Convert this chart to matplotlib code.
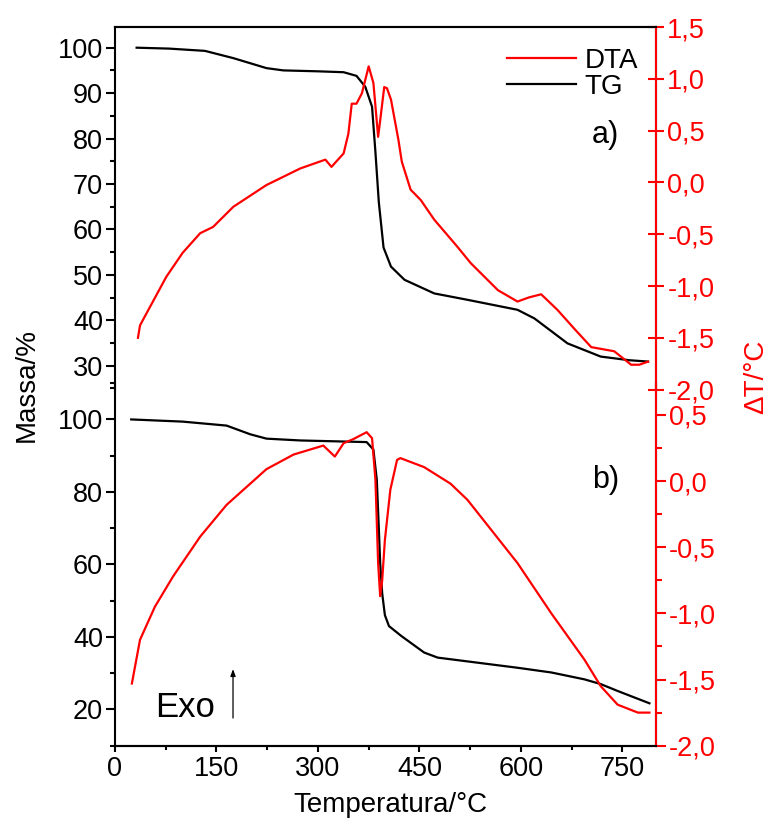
import matplotlib
matplotlib.use("Agg")
import matplotlib.pyplot as plt
from matplotlib.ticker import MultipleLocator, FuncFormatter

plt.rcParams['font.family'] = ['Liberation Sans', 'DejaVu Sans']

# sample a) - TG (mass %) and DTA (delta T) vs temperature
a_tg_temp = [32, 80, 133, 175, 224, 249, 300, 338, 357, 370, 380, 385, 390, 397,
             408, 428, 472, 521, 595, 620, 669, 718, 760, 788]
a_tg_mass = [100, 99.8, 99.3, 97.7, 95.5, 95.0, 94.8, 94.6, 93.8, 91.4, 87, 77, 66, 56,
             51.8, 48.9, 45.9, 44.5, 42.3, 40.4, 34.9, 32, 31.2, 30.9]
a_dta_temp = [34, 37, 76, 100, 126, 145, 175, 224, 274, 311, 320, 338, 345, 350, 357,
              365, 375, 382, 389, 393, 398, 402, 408, 419, 424, 437, 452, 472, 506, 526,
              566, 595, 612, 630, 654, 680, 704, 738, 763, 775, 788]
a_dta_dt = [-1.50, -1.38, -0.91, -0.68, -0.49, -0.43, -0.235, -0.025, 0.135, 0.22, 0.15,
            0.28, 0.47, 0.76, 0.76, 0.86, 1.12, 0.96, 0.44, 0.65, 0.92, 0.91, 0.80, 0.41,
            0.20, -0.07, -0.17, -0.36, -0.62, -0.78, -1.04, -1.15, -1.11, -1.08, -1.23,
            -1.42, -1.59, -1.63, -1.76, -1.76, -1.73]

# sample b)
b_tg_temp = [24, 100, 165, 200, 224, 274, 372, 382, 387, 390, 392, 395, 399, 405, 423,
             457, 477, 595, 645, 694, 718, 743, 790]
b_tg_mass = [100, 99.4, 98.3, 95.9, 94.7, 94.2, 93.75, 91.7, 83.4, 70, 60.5, 52, 46, 43,
             40.3, 35.7, 34.3, 31.5, 30.2, 28.3, 27, 25.1, 21.7]
b_dta_temp = [25, 37, 59, 86, 126, 165, 224, 264, 308, 325, 338, 352, 372, 380, 385, 389,
              392, 395, 399, 407, 417, 422, 457, 496, 521, 595, 645, 694, 718, 743, 773, 790]
b_dta_dt = [-1.53, -1.2, -0.95, -0.72, -0.42, -0.18, 0.09, 0.2, 0.268, 0.185, 0.286, 0.316,
            0.369, 0.324, 0.01, -0.62, -0.87, -0.75, -0.445, -0.067, 0.16, 0.173, 0.105,
            -0.02, -0.142, -0.62, -1.0, -1.35, -1.55, -1.69, -1.75, -1.75]

red = '#ff0000'
fs = 19.5
comma = FuncFormatter(lambda v, p: f"{v:.1f}".replace('.', ','))

fig = plt.figure(figsize=(7.68, 8.19), dpi=100)
ax_b = fig.add_axes([0.1497, 0.0895, 0.7047, 0.4429])
ax_a = fig.add_axes([0.1497, 0.5243, 0.7047, 0.4427])
ax_b.patch.set_visible(False)
ax_a.patch.set_visible(False)
ax_a2 = ax_a.twinx()
ax_b2 = ax_b.twinx()

lw = 1.6
ax_a.plot(a_tg_temp, a_tg_mass, color='black', lw=lw, label='TG')
ax_a2.plot(a_dta_temp, a_dta_dt, color=red, lw=lw, label='DTA')
ax_b.plot(b_tg_temp, b_tg_mass, color='black', lw=lw)
ax_b2.plot(b_dta_temp, b_dta_dt, color=red, lw=lw)

for ax in (ax_a, ax_a2, ax_b, ax_b2):
    ax.set_xlim(0, 800)

ax_a.set_ylim(24.73, 104.55)
ax_a2.set_ylim(-2.0, 1.5)
ax_b.set_ylim(10, 110.06)
ax_b2.set_ylim(-2.0, 0.741)

# spines
for ax in (ax_a, ax_a2):
    ax.spines['bottom'].set_visible(False)
for ax in (ax_b, ax_b2):
    ax.spines['top'].set_visible(False)
for ax in (ax_a, ax_a2, ax_b, ax_b2):
    for s in ax.spines.values():
        s.set_linewidth(1.5)
for ax in (ax_a2, ax_b2):
    ax.spines['right'].set_color(red)
    ax.spines['left'].set_visible(False)

# left (mass) axes
ax_a.yaxis.set_major_locator(MultipleLocator(10))
ax_a.yaxis.set_minor_locator(MultipleLocator(5))
ax_b.yaxis.set_major_locator(MultipleLocator(20))
ax_b.yaxis.set_minor_locator(MultipleLocator(10))
for ax in (ax_a, ax_b):
    ax.tick_params(axis='y', which='major', direction='out', length=6.5, width=1.5,
                   labelsize=fs, pad=2)
    ax.tick_params(axis='y', which='minor', direction='out', length=3.5, width=1.5)

# right (DTA) axes
ax_a2.yaxis.set_major_locator(MultipleLocator(0.5))
ax_a2.yaxis.set_major_formatter(comma)
ax_a2.tick_params(axis='y', which='major', direction='inout', length=12, width=1.5,
                  colors=red, labelsize=fs, pad=2)
ax_b2.yaxis.set_major_locator(MultipleLocator(0.5))
ax_b2.yaxis.set_minor_locator(MultipleLocator(0.25))
ax_b2.yaxis.set_major_formatter(comma)
ax_b2.tick_params(axis='y', which='major', direction='out', length=7, width=1.5,
                  colors=red, labelsize=fs, pad=2)
ax_b2.tick_params(axis='y', which='minor', direction='out', length=4, width=1.5,
                  colors=red)

# x axis only on the lower panel
ax_a.tick_params(axis='x', which='both', bottom=False, labelbottom=False)
ax_a2.tick_params(axis='x', which='both', bottom=False, labelbottom=False)
ax_b.xaxis.set_major_locator(MultipleLocator(150))
ax_b.xaxis.set_minor_locator(MultipleLocator(75))
ax_b.tick_params(axis='x', which='major', direction='out', length=4.5, width=1.5,
                 labelsize=fs, pad=3)
ax_b.tick_params(axis='x', which='minor', direction='out', length=3, width=1.5)

fig.text(0.035, 0.53, 'Massa/%', rotation=90, ha='center', va='center', fontsize=20)
fig.text(0.508, 0.017, 'Temperatura/°C', ha='center', va='center', fontsize=20)
fig.text(0.984, 0.54, 'ΔT/°C', rotation=90, ha='center', va='center', fontsize=20,
         color=red)

fig.text(0.788, 0.835, 'a)', ha='center', va='center', fontsize=22)
fig.text(0.789, 0.414, 'b)', ha='center', va='center', fontsize=22)
fig.text(0.202, 0.1245, 'Exo', ha='left', va='baseline', fontsize=25)
fig.add_artist(matplotlib.patches.FancyArrowPatch(
    (0.3034, 0.1233), (0.3034, 0.183), transform=fig.transFigure,
    arrowstyle='-|>,head_length=4,head_width=1.5', color='black', lw=0.9,
    shrinkA=0, shrinkB=0))

h1, l1 = ax_a2.get_legend_handles_labels()
h2, l2 = ax_a.get_legend_handles_labels()
fig.legend(h1 + h2, l1 + l2, loc='upper left', bbox_to_anchor=(0.66, 0.942),
           frameon=False, fontsize=20, handlelength=2.5, handletextpad=0.3,
           labelspacing=0.02, borderpad=0, borderaxespad=0)

plt.savefig('out.png', dpi=100)
